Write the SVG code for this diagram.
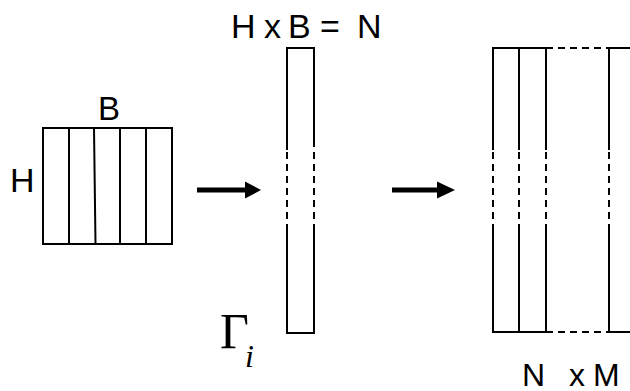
<svg xmlns="http://www.w3.org/2000/svg" width="630" height="391" viewBox="0 0 630 391">
<style>
.ln{stroke:#000;stroke-width:2;fill:none}
.ds{stroke:#000;stroke-width:2;fill:none;stroke-dasharray:7,5}
.t{font-family:"Liberation Sans",Arial,sans-serif;fill:#000}
.g{font-family:"Liberation Serif","Times New Roman",serif;fill:#000}
</style>
<rect width="630" height="391" fill="#fff"/>
<g id="block">
<rect class="ln" x="43" y="128" width="129" height="116"/>
<line class="ln" x1="69" y1="128" x2="69" y2="244"/>
<line class="ln" x1="94" y1="128" x2="95.5" y2="244"/>
<line class="ln" x1="120" y1="128" x2="120" y2="244"/>
<line class="ln" x1="146" y1="128" x2="146" y2="244"/>
<text class="t" x="98" y="120" font-size="33">B</text>
<text class="t" x="10" y="192" font-size="34">H</text>
</g>
<g id="column">
<path class="ln" d="M287,150 V48 H314 V147 M287,228 V333 H314 V228"/>
<line class="ds" x1="287" y1="152" x2="287" y2="228"/>
<line class="ds" x1="314" y1="152" x2="314" y2="228"/>
<text class="t" font-size="34" y="38"><tspan x="231">H</tspan><tspan x="264">x</tspan><tspan x="288">B</tspan><tspan x="320">=</tspan><tspan x="357">N</tspan></text>
<text class="g" x="220" y="348" font-size="50">Γ</text>
<text class="g" x="245" y="367" font-size="32" font-style="italic">i</text>
</g>
<g id="matrix">
<path class="ln" d="M493,150 V48 H546 M519,48 V150 M546,48 V150 M609,150 V48 H630"/>
<path class="ln" d="M493,228 V332 H546 M519,332 V228 M546,332 V228 M609,228 V332 H630"/>
<line class="ds" x1="546" y1="48" x2="609" y2="48"/>
<line class="ds" x1="546" y1="332" x2="609" y2="332"/>
<line class="ds" x1="493" y1="152" x2="493" y2="228"/>
<line class="ds" x1="519" y1="152" x2="519" y2="228"/>
<line class="ds" x1="546" y1="152" x2="546" y2="228"/>
<line class="ds" x1="609" y1="152" x2="609" y2="228"/>
<text class="t" font-size="32" y="386"><tspan x="522">N</tspan><tspan x="569">x</tspan><tspan x="593">M</tspan></text>
</g>
<g id="connectors">
<polygon points="197,187.5 245,187.5 245,181.5 261,190 245,198.5 245,192.5 197,192.5" fill="#000"/>
<polygon points="392,187.5 437,187.5 437,181.5 455,190 437,198.5 437,192.5 392,192.5" fill="#000"/>
</g>
</svg>
